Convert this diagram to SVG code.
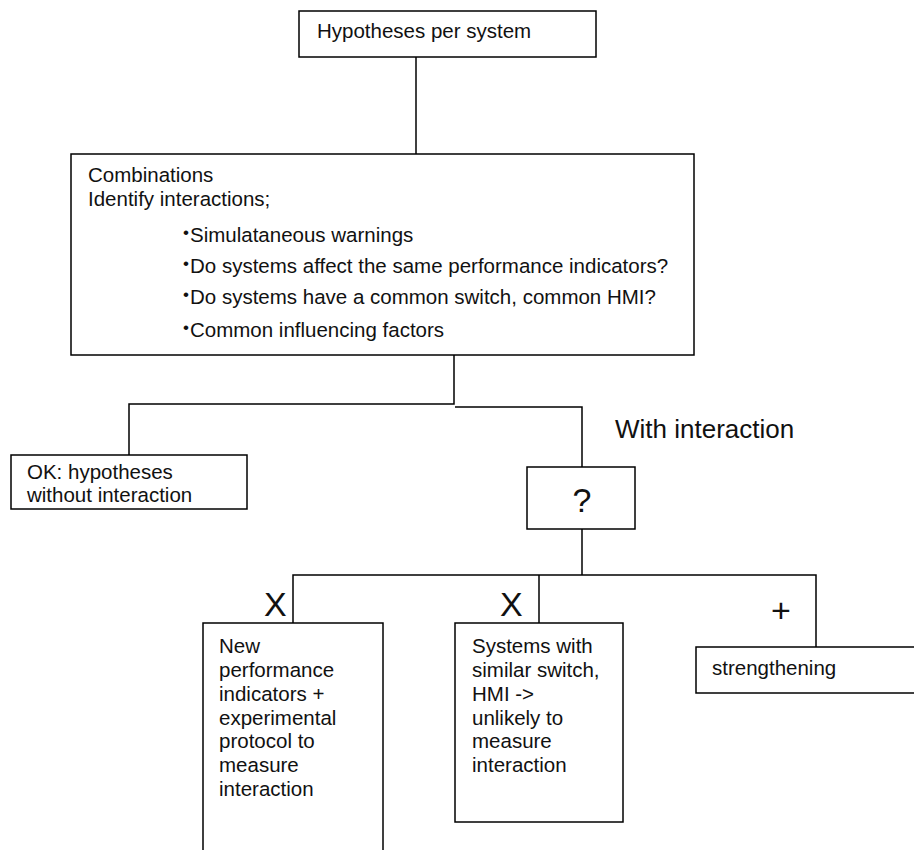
<svg xmlns="http://www.w3.org/2000/svg" width="914" height="850" viewBox="0 0 914 850">
<style>
.box{fill:#fff;stroke:#000;stroke-width:1.5}
.t{font-family:"Liberation Sans",Arial,sans-serif;font-size:20.5px;fill:#111}
.b{font-family:"Liberation Sans",Arial,sans-serif;font-size:17px;fill:#111}
.big{font-family:"Liberation Sans",Arial,sans-serif;font-size:34px;fill:#111}
.lbl{font-family:"Liberation Sans",Arial,sans-serif;font-size:26px;fill:#111}
.c{fill:none;stroke:#000;stroke-width:1.5}
</style>
<rect width="914" height="850" fill="#fff"/>
<g id="connectors">
<path class="c" d="M416 57V154"/>
<path class="c" d="M454 355V404H129V455"/>
<path class="c" d="M455 407H582V467"/>
<path class="c" d="M582 529V575"/>
<path class="c" d="M293 623V575H816V647"/>
<path class="c" d="M539 575V623"/>
</g>
<g id="hypotheses">
<rect class="box" x="299" y="11" width="297" height="46"/>
<text class="t" x="317" y="38">Hypotheses per system</text>
</g>
<g id="combinations">
<rect class="box" x="71" y="154" width="623" height="201"/>
<text class="t" x="88" y="182">Combinations</text>
<text class="t" x="88" y="206">Identify interactions;</text>
<text class="b" x="183" y="238">•</text>
<text class="t" x="190" y="242">Simulataneous warnings</text>
<text class="b" x="183" y="269">•</text>
<text class="t" x="190" y="273">Do systems affect the same performance indicators?</text>
<text class="b" x="183" y="300">•</text>
<text class="t" x="190" y="304">Do systems have a common switch, common HMI?</text>
<text class="b" x="183" y="333">•</text>
<text class="t" x="190" y="337">Common influencing factors</text>
</g>
<g id="ok">
<rect class="box" x="11" y="455" width="236" height="54"/>
<text class="t" x="27" y="479">OK: hypotheses</text>
<text class="t" x="27" y="502">without interaction</text>
</g>
<g id="with-interaction-label">
<text class="lbl" x="615" y="438">With interaction</text>
</g>
<g id="question">
<rect class="box" x="527" y="467" width="108" height="62"/>
<text class="big" x="582" y="512" text-anchor="middle">?</text>
</g>
<g id="labels">
<text class="big" x="264" y="616">X</text>
<text class="big" x="500" y="616">X</text>
<text class="big" x="771" y="622">+</text>
</g>
<g id="new-indicators">
<rect class="box" x="203" y="623" width="180" height="240"/>
<text class="t" x="219" y="653">New</text>
<text class="t" x="219" y="677">performance</text>
<text class="t" x="219" y="701">indicators +</text>
<text class="t" x="219" y="725">experimental</text>
<text class="t" x="219" y="748">protocol to</text>
<text class="t" x="219" y="772">measure</text>
<text class="t" x="219" y="796">interaction</text>
</g>
<g id="similar-switch">
<rect class="box" x="455" y="623" width="168" height="199"/>
<text class="t" x="472" y="653">Systems with</text>
<text class="t" x="472" y="677">similar switch,</text>
<text class="t" x="472" y="701">HMI -&gt;</text>
<text class="t" x="472" y="725">unlikely to</text>
<text class="t" x="472" y="748">measure</text>
<text class="t" x="472" y="772">interaction</text>
</g>
<g id="strengthening">
<rect class="box" x="696" y="647" width="230" height="46"/>
<text class="t" x="712" y="675">strengthening</text>
</g>
</svg>
